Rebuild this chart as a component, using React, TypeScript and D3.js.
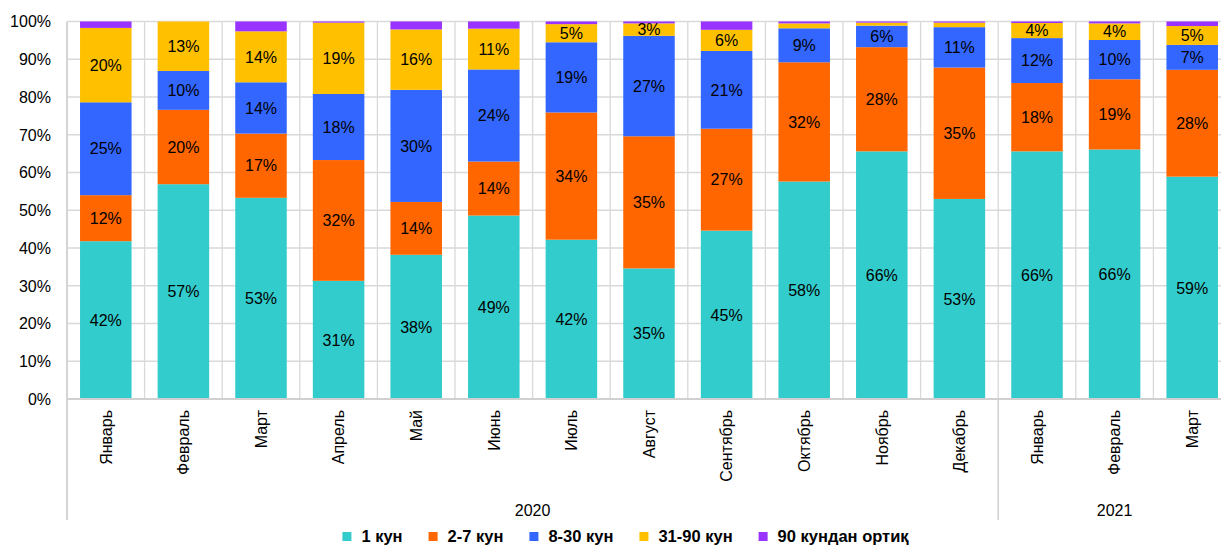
import React from "react";
import * as d3 from "d3";

const months = ["Январь", "Февраль", "Март", "Апрель", "Май", "Июнь", "Июль", "Август", "Сентябрь", "Октябрь", "Ноябрь", "Декабрь", "Январь", "Февраль", "Март"];
const yearLabels = ["2020", "2021"];
const yearSpans = [12, 3];

const seriesNames = ["1 кун", "2-7 кун", "8-30 кун", "31-90 кун", "90 кундан ортиқ"];
const seriesColors = ["#33CCCC", "#FF6600", "#3366FF", "#FFC000", "#9933FF"];

const s1 = [41.8, 56.9, 53.3, 31.3, 38.2, 48.6, 42.2, 34.6, 44.6, 57.6, 65.6, 53.0, 65.6, 66.1, 58.9];
const s2_7 = [12.2, 19.7, 17.0, 32.0, 14.0, 14.3, 33.7, 35.0, 27.0, 31.6, 27.6, 34.8, 18.1, 18.6, 28.3];
const s8_30 = [24.6, 10.3, 13.6, 17.5, 29.7, 24.4, 18.6, 26.6, 20.6, 9.0, 5.7, 10.7, 11.9, 10.4, 6.6];
const s31_90 = [19.7, 13.1, 13.5, 18.9, 16.0, 10.8, 4.8, 3.3, 5.6, 1.3, 0.8, 1.2, 4.0, 4.4, 5.0];
const s90 = [1.7, 0, 2.6, 0.3, 2.1, 1.9, 0.7, 0.5, 2.2, 0.5, 0.3, 0.3, 0.4, 0.5, 1.2];

const yTicks = [0, 10, 20, 30, 40, 50, 60, 70, 80, 90, 100];

const FONT = "'Liberation Sans', Arial, sans-serif";
const W = 1221;
const H = 547;

function measure(text: string, font: string): number {
  const c = document.createElement("canvas").getContext("2d");
  if (!c) return text.length * 8;
  c.font = font;
  return c.measureText(text).width;
}

export default function App() {
  const series = [s1, s2_7, s8_30, s31_90, s90];
  const rows = months.map((m, i) => {
    const r: any = { key: String(i) };
    seriesNames.forEach((n, k) => (r[n] = series[k][i]));
    return r;
  });
  const stacked = d3.stack<any>().keys(seriesNames)(rows);

  const left = 67;
  const step = 77.6;
  const right = left + step * months.length;
  const top = 21.5;
  const bottom = 399;
  const axisBottom = 520;

  const x = d3
    .scaleBand<string>()
    .domain(months.map((_, i) => String(i)))
    .range([left, right])
    .paddingInner(0.336)
    .paddingOuter(0.168);
  const y = d3.scaleLinear().domain([0, 100]).range([bottom, top]);

  const grid = "#d9d9d9";

  const bounds: number[] = [0];
  yearSpans.forEach((s) => bounds.push(bounds[bounds.length - 1] + s));
  const bx = (i: number) => left + i * step;

  // legend layout
  const legSize = 16.5;
  const legFont = `bold ${legSize}px ${FONT}`;
  const sq = 9;
  const gapText = 10;
  const gapItem = 26;
  const widths = seriesNames.map((n) => sq + gapText + measure(n, legFont));
  const total = d3.sum(widths) + gapItem * (widths.length - 1);
  let lx = 625.5 - total / 2;
  const legendItems = seriesNames.map((n, k) => {
    const item = { n, k, x: lx };
    lx += widths[k] + gapItem;
    return item;
  });
  const legBase = 542;

  return (
    <div style={{ position: "absolute", left: 0, top: 0 }}>
      <svg width={W} height={H} style={{ display: "block", background: "#fff" }} fontFamily={FONT}>
        {yTicks.filter((t) => t > 0).map((t) => (
          <line key={"h" + t} x1={left} x2={right} y1={y(t)} y2={y(t)} stroke={grid} strokeWidth={1.3} />
        ))}
        {d3.range(1, months.length + 1).map((i) => (
          <line key={"v" + i} x1={bx(i)} x2={bx(i)} y1={top} y2={bottom} stroke={grid} strokeWidth={1.3} />
        ))}
        {stacked.map((layer, k) => (
          <g key={layer.key} fill={seriesColors[k]}>
            {layer.map((d, i) => {
              const h = y(d[0]) - y(d[1]);
              if (h <= 0) return null;
              return <rect key={i} x={x(String(i))} width={x.bandwidth()} y={y(d[1])} height={h} />;
            })}
          </g>
        ))}
        {stacked.slice(0, 4).map((layer, k) => (
          <g key={"l" + layer.key} fontSize={16} fill="#000" textAnchor="middle">
            {layer.map((d, i) => {
              const v = d[1] - d[0];
              if (v < 3) return null;
              return (
                <text key={i} x={(x(String(i)) as number) + x.bandwidth() / 2} y={y((d[0] + d[1]) / 2)} dy="0.36em">
                  {Math.round(v) + "%"}
                </text>
              );
            })}
          </g>
        ))}
        <line x1={left} x2={left} y1={top} y2={axisBottom} stroke="#d0d0d0" strokeWidth={1.8} />
        <line x1={left} x2={right} y1={bottom} y2={bottom} stroke="#d0d0d0" strokeWidth={1.8} />
        {bounds.slice(1).map((b, i) => (
          <line key={"yb" + i} x1={bx(b)} x2={bx(b)} y1={bottom} y2={axisBottom} stroke="#d0d0d0" strokeWidth={1.5} />
        ))}
        {yTicks.map((t) => (
          <text key={"yt" + t} x={left - 16} y={y(t)} dy="0.36em" textAnchor="end" fontSize={16} fill="#000">
            {t + "%"}
          </text>
        ))}
        {months.map((m, i) => {
          const cx = (x(String(i)) as number) + x.bandwidth() / 2;
          return (
            <text key={"m" + i} transform={`translate(${cx},410) rotate(-90)`} textAnchor="end" dy="0.36em" fontSize={16} fill="#000">
              {m}
            </text>
          );
        })}
        {yearLabels.map((yl, i) => (
          <text key={"y" + yl} x={(bx(bounds[i]) + bx(bounds[i + 1])) / 2} y={516} textAnchor="middle" fontSize={16} fill="#000">
            {yl}
          </text>
        ))}
        {legendItems.map((it) => (
          <g key={"lg" + it.k}>
            <rect x={it.x} y={legBase - 10} width={sq} height={sq} fill={seriesColors[it.k]} />
            <text x={it.x + sq + gapText} y={legBase} fontSize={legSize} fontWeight="bold" fill="#000">
              {it.n}
            </text>
          </g>
        ))}
      </svg>
    </div>
  );
}
